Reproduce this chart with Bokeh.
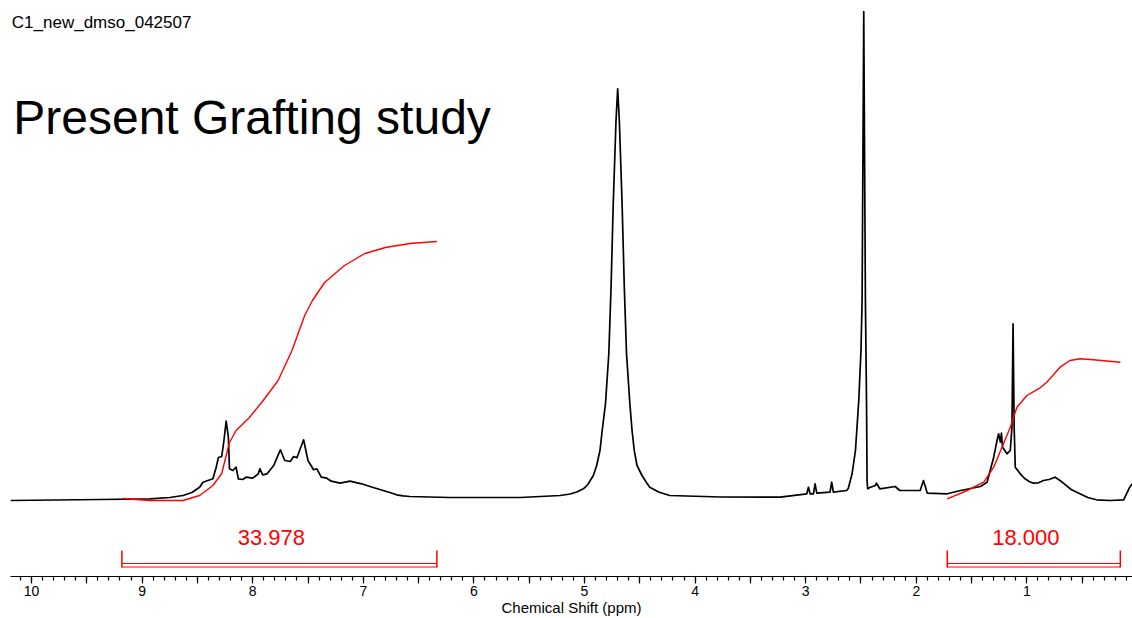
from bokeh.plotting import figure
from bokeh.models import Range1d, SingleIntervalTicker, CustomJSTickFormatter, Label, ColumnDataSource
from bokeh.core.properties import value
from bokeh.embed import file_html
from bokeh.resources import INLINE

# ---- data ----
spec_ppm = [10.19, 9.38, 8.93, 8.75, 8.63, 8.55, 8.48, 8.45, 8.36, 8.33, 8.31, 8.28, 8.26, 8.24,
            8.22, 8.21, 8.18, 8.15, 8.13, 8.09, 8.06, 8.00, 7.95, 7.935, 7.91, 7.87, 7.81, 7.75,
            7.71, 7.66, 7.63, 7.60, 7.54, 7.50, 7.45, 7.42, 7.38, 7.33, 7.29, 7.21, 7.12, 7.015,
            6.94, 6.82, 6.76, 6.70, 6.64, 6.58, 6.22, 5.58, 5.22, 5.13, 5.07, 5.01, 4.97, 4.92,
            4.89, 4.86, 4.84, 4.81, 4.78, 4.76, 4.74, 4.715, 4.70, 4.685, 4.66, 4.64, 4.62, 4.59,
            4.57, 4.55, 4.525, 4.48, 4.44, 4.41, 4.33, 4.23, 3.77, 3.23, 2.99, 2.975, 2.96, 2.93,
            2.915, 2.90, 2.78, 2.765, 2.75, 2.63, 2.615, 2.58, 2.55, 2.52, 2.50, 2.49, 2.475, 2.46,
            2.45, 2.445, 2.44, 2.42, 2.37, 2.36, 2.33, 2.19, 2.17, 2.15, 1.965, 1.935, 1.90, 1.72,
            1.60, 1.42, 1.36, 1.30, 1.27, 1.255, 1.24, 1.23, 1.22, 1.18, 1.15, 1.135, 1.125, 1.115,
            1.105, 1.06, 1.02, 0.98, 0.94, 0.90, 0.85, 0.80, 0.745, 0.70, 0.67, 0.60, 0.52, 0.45,
            0.37, 0.25, 0.125, 0.07, 0.047]
spec_int = [0, 1, 1.7, 3, 5, 8, 13.3, 18.3, 21.7, 33.3, 43, 44, 60, 79.3,
            63.3, 31.7, 30, 33.3, 21.7, 21, 23.3, 22.3, 26.7, 31.7, 25.7, 26.7, 35, 50.7,
            40, 39, 44, 42.7, 60.7, 40, 30.7, 31.7, 23.3, 22.3, 19.3, 17.3, 19.3, 16.7,
            14, 10, 8, 5.7, 4.7, 4, 3, 3, 5, 6.5, 8.5, 11.7, 16, 25,
            35, 50, 70, 97, 147, 213, 297, 380, 411.7, 380, 297, 213, 147, 97,
            70, 50, 35, 25, 18, 13.3, 8.5, 5, 3.5, 3.3, 6.7, 13.3, 6.7, 6.7,
            16.7, 7.3, 8.3, 18.3, 8.3, 10, 12, 27, 50, 100, 150, 200, 489, 200,
            100, 20, 11.7, 13, 15, 17.3, 11.7, 14, 12, 10, 10, 20, 7.3, 6.7,
            10, 14, 18.3, 43.3, 60, 66.7, 58.3, 67.3, 53.3, 46.7, 50, 73.3, 176.7, 73.3,
            33.3, 26.7, 22, 19, 17.3, 17.5, 20, 21, 23.3, 20, 17.3, 11, 6.7, 3,
            0.7, 0, 0.7, 13.3, 16.7]

integ1_ppm = [9.18, 8.93, 8.63, 8.48, 8.36, 8.28, 8.24, 8.21, 8.15, 8.03, 7.905, 7.77, 7.645,
              7.53, 7.46, 7.35, 7.17, 6.985, 6.80, 6.58, 6.335]
integ1_val = [2, 0, 0, 5, 15, 27, 45, 58, 70, 83, 100, 120, 150,
              185, 200, 218, 235, 247, 253, 257, 259]

integ2_ppm = [1.72, 1.54, 1.39, 1.30, 1.225, 1.15, 1.09, 1.00, 0.88, 0.82, 0.70, 0.61, 0.52,
              0.40, 0.155]
integ2_val = [1.7, 10, 18.3, 33.3, 53.3, 73.3, 93.3, 105, 112.7, 118.3, 133.3, 140, 141.7,
              140.7, 138.3]

region_start = [9.183, 1.72]
region_end = [6.335, 0.155]
region_label = ["33.978", "18.000"]

title_small = "C1_new_dmso_042507"
title_big = "Present Grafting study"
x_label = "Chemical Shift (ppm)"

FONT = "Liberation Sans"
RED = "#ff0000"

p = figure(width=1132, height=618, output_backend="svg", toolbar_location=None,
           x_range=Range1d(10.19, 0.045), y_range=Range1d(-76, 500),
           y_axis_location=None, min_border_left=10, min_border_right=0,
           min_border_top=0, min_border_bottom=42)
p.outline_line_color = None
p.xgrid.visible = False
p.ygrid.visible = False
p.background_fill_color = "white"
p.border_fill_color = "white"

ax = p.xaxis[0]
ax.ticker = SingleIntervalTicker(interval=0.5, num_minor_ticks=5)
ax.formatter = CustomJSTickFormatter(
    code="return Math.abs(tick - Math.round(tick)) < 1e-6 ? String(Math.round(tick)) : '';")
ax.major_tick_in = 0
ax.major_tick_out = 7
ax.minor_tick_in = 0
ax.minor_tick_out = 4
ax.axis_line_color = "black"
ax.axis_line_width = 1.2
ax.major_tick_line_color = "black"
ax.major_tick_line_width = 1.2
ax.minor_tick_line_color = "black"
ax.minor_tick_line_width = 1.2
ax.major_label_text_font = FONT
ax.major_label_text_font_size = "14px"
ax.major_label_text_color = "black"
ax.major_label_standoff = 2
ax.axis_label = x_label
ax.axis_label_text_font = FONT
ax.axis_label_text_font_size = "15px"
ax.axis_label_text_font_style = "normal"
ax.axis_label_text_color = "black"
ax.axis_label_standoff = 0

# spectrum
p.line(spec_ppm, spec_int, line_color="black", line_width=1.7, line_join="round")

# integral curves
p.line(integ1_ppm, integ1_val, line_color=RED, line_width=1.4, line_join="round")
p.line(integ2_ppm, integ2_val, line_color=RED, line_width=1.4, line_join="round")

# integral brackets
src = ColumnDataSource(dict(x0=region_start, x1=region_end,
                            xm=[(a + b) / 2 for a, b in zip(region_start, region_end)],
                            lab=region_label))
p.segment(x0="x0", y0=-63, x1="x1", y1=-63, source=src, line_color=RED, line_width=1.2)
p.segment(x0="x0", y0=-66.5, x1="x1", y1=-66.5, source=src, line_color=RED, line_width=1.2)
p.segment(x0="x0", y0=-50, x1="x0", y1=-67, source=src, line_color=RED, line_width=1.5)
p.segment(x0="x1", y0=-50, x1="x1", y1=-67, source=src, line_color=RED, line_width=1.5)
p.text(x="xm", y=-37, text="lab", source=src, text_color=RED, text_font=value(FONT),
       text_font_size="22px", text_align="center", text_baseline="middle", x_offset=-8)

# titles
p.add_layout(Label(x=10.178, y=478, text=title_small, text_font=FONT, text_font_size="17px",
                   text_color="black", text_align="left", text_baseline="alphabetic"))
p.add_layout(Label(x=10.165, y=383, text=title_big, text_font=FONT, text_font_size="48px",
                   text_color="black", text_align="left", text_baseline="alphabetic"))

open("out.html", "w").write(file_html(p, INLINE))
